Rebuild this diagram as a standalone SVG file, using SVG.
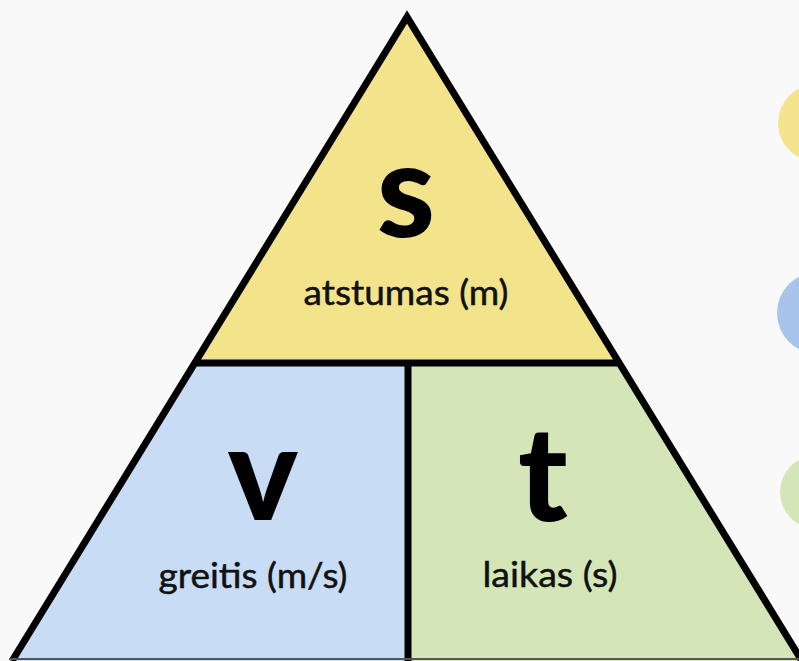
<svg xmlns="http://www.w3.org/2000/svg" width="799" height="661" viewBox="0 0 799 661">
<style>
.edge{stroke:#000;stroke-width:7;stroke-linejoin:miter;fill:none}
.sym{font-family:Lato,"Open Sans",sans-serif;font-weight:900;font-size:132px;fill:#000;text-anchor:middle}
.lbl{font-family:Lato,"Open Sans",sans-serif;font-size:35px;fill:#111;text-anchor:middle;stroke:#111;stroke-width:0.5}
</style>
<rect width="799" height="661" fill="#f9f9f9"/>
<g id="legend">
<circle cx="817" cy="123" r="39" fill="#f5e48e"/>
<circle cx="818" cy="313" r="41" fill="#a9c4ea"/>
<circle cx="817" cy="492" r="37" fill="#d4e6b8"/>
</g>
<g id="node-s">
<polygon points="407,17 193,363 621,363" fill="#f3e48b"/>
<text class="sym" x="406" y="237">s</text>
<text class="lbl" x="406" y="305" textLength="205" lengthAdjust="spacingAndGlyphs">atstumas (m)</text>
</g>
<g id="node-v">
<polygon points="193,363 408,363 408,661 9,661" fill="#c8dcf5"/>
<text class="sym" x="263" y="520">v</text>
<text class="lbl" x="253" y="588" textLength="189" lengthAdjust="spacingAndGlyphs">greitis (m/s)</text>
</g>
<g id="node-t">
<polygon points="408,363 621,363 805,661 408,661" fill="#d4e6b8"/>
<text class="sym" x="543" y="521">t</text>
<text class="lbl" x="550" y="587" textLength="135" lengthAdjust="spacingAndGlyphs">laikas (s)</text>
</g>
<g id="connectors">
<polyline class="edge" points="12,661 407,17 802,661"/>
<line class="edge" x1="196" y1="363" x2="618" y2="363"/>
<line class="edge" x1="408" y1="363" x2="408" y2="661"/>
<line x1="9" y1="659" x2="802" y2="659" stroke="#555" stroke-width="2"/>
</g>
</svg>
